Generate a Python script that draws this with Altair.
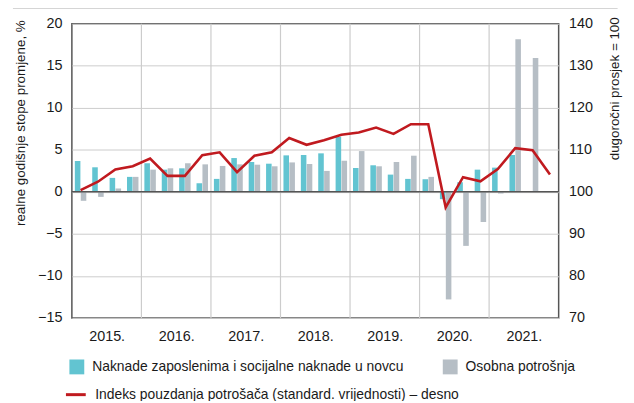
import altair as alt
import pandas as pd

years = ["2015.", "2016.", "2017.", "2018.", "2019.", "2020.", "2021."]

# quarterly values, 2015 Q1 ...
naknade = [3.67, 2.92, 1.66, 1.78, 3.40, 2.64, 2.80, 1.03, 1.54, 4.02, 3.55, 3.35,
           4.34, 4.38, 4.58, 6.55, 2.84, 3.16, 2.05, 1.54, 1.50, -0.87, 1.14, 2.64,
           2.88, 4.38, None]
osobna = [-1.07, -0.60, 0.40, 1.78, 2.64, 2.80, 3.40, 3.27, 3.08, 3.27, 3.23, 3.04,
          3.50, 3.31, 2.49, 3.70, 4.85, 3.04, 3.55, 4.30, 1.78, -12.80, -6.43, -3.59,
          -0.20, 18.15, 15.94]
indeks = [100.4, 102.4, 105.3, 106.1, 107.9, 103.8, 103.8, 108.7, 109.4, 104.7, 108.6, 109.4,
          112.8, 111.2, 112.3, 113.6, 114.1, 115.3, 113.8, 116.1, 116.1, 96.3, 103.5, 102.5,
          105.4, 110.4, 109.9, 104.1]

s1 = "Naknade zaposlenima i socijalne naknade u novcu"
s2 = "Osobna potrošnja"
s3 = "Indeks pouzdanja potrošača (standard. vrijednosti) – desno"

FONT = "Liberation Sans"
FS = 14.5
TEAL = "#62c4d1"
GREY = "#b6bec5"
RED = "#c01a1f"
GRID = "#cccccc"
DARK = "#555555"
TXT = "#1a1a1a"

n_q = len(indeks)
bars_df = pd.DataFrame({
    "q": list(range(len(naknade))) + list(range(len(osobna))),
    "serija": [s1] * len(naknade) + [s2] * len(osobna),
    "v": naknade + osobna,
}).dropna()
line_df = pd.DataFrame({"q": list(range(n_q)), "v": indeks, "serija": [s3] * n_q})
bound_df = pd.DataFrame({"b": [4 * i for i in range(1, len(years))]})

xscale = alt.Scale(domain=[0, 4 * len(years)], nice=False, zero=False)
label_arr = "[" + ",".join("'" + y + "'" for y in years) + "]"

vgrid = alt.Chart(bound_df).mark_rule(color=GRID, strokeWidth=1.2).encode(
    x=alt.X("b:Q", scale=xscale,
            axis=alt.Axis(values=[4 * i + 2 for i in range(len(years))],
                          labelExpr=label_arr + "[floor(datum.value/4)]",
                          title=None, domain=False, ticks=False, grid=False,
                          labelFontSize=FS, labelColor=TXT, labelPadding=12))
)

bars = alt.Chart(bars_df).transform_calculate(
    x1="datum.q + (datum.serija == '" + s1 + "' ? 0.17 : 0.51)",
    x2="datum.q + (datum.serija == '" + s1 + "' ? 0.49 : 0.83)",
).mark_rect().encode(
    x=alt.X("x1:Q", scale=xscale),
    x2="x2:Q",
    y=alt.Y("v:Q", scale=alt.Scale(domain=[-15, 20], nice=False, zero=False),
            axis=alt.Axis(values=list(range(-15, 21, 5)),
                          labelExpr="replace(format(datum.value, 'd'), '-', '–')",
                          title="realne godišnje stope promjene, %",
                          titleFontSize=13.5, titleFontWeight="normal", titleColor=TXT,
                          titleAngle=270, titleAlign="right", titleBaseline="middle",
                          titleX=-52, titleY=-4,
                          domain=False, ticks=False, grid=True, gridColor=GRID,
                          labelFontSize=FS, labelColor=TXT, labelPadding=10)),
    y2=alt.datum(0),
    color=alt.Color("serija:N",
                    scale=alt.Scale(domain=[s1, s2], range=[TEAL, GREY]),
                    legend=alt.Legend(title=None, orient="none", legendX=-2.5, legendY=339,
                                      direction="horizontal", symbolType="square",
                                      symbolSize=225, symbolStrokeWidth=0,
                                      labelFontSize=14, labelColor=TXT,
                                      labelOffset=8, columnPadding=39, padding=0,
                                      labelLimit=0)),
)

zero = alt.Chart(pd.DataFrame({"z": [0]})).mark_rule(color=DARK, strokeWidth=1.5).encode(
    y=alt.Y("z:Q")
)

topline = alt.Chart(pd.DataFrame({"z": [0]})).mark_rule(color="#999999", strokeWidth=1).encode(
    x=alt.value(-59.5), x2=alt.value(551), y=alt.value(-16)
)

left = alt.layer(vgrid, bars, zero, topline)

line = alt.Chart(line_df).transform_calculate(xc="datum.q + 0.5").mark_line(
    strokeWidth=2.6, strokeJoin="miter"
).encode(
    x=alt.X("xc:Q", scale=xscale),
    y=alt.Y("v:Q", scale=alt.Scale(domain=[70, 140], nice=False, zero=False),
            axis=alt.Axis(orient="right", values=list(range(70, 141, 10)),
                          title="dugoročni prosjek = 100",
                          titleFontSize=13.5, titleFontWeight="normal", titleColor=TXT,
                          titleAngle=270, titleAlign="right", titleBaseline="middle",
                          titleX=56, titleY=-7,
                          domain=False, ticks=False, grid=False,
                          labelFontSize=FS, labelColor=TXT, labelPadding=10)),
    stroke=alt.Stroke("serija:N", scale=alt.Scale(domain=[s3], range=[RED]),
                      legend=alt.Legend(title=None, orient="none", legendX=-7.5, legendY=363,
                                        symbolType="stroke", symbolSize=400,
                                        symbolStrokeWidth=3, labelFontSize=14,
                                        labelColor=TXT, labelOffset=8, padding=0,
                                        labelLimit=0)),
)

chart = alt.layer(left, line).resolve_scale(y="independent", color="independent").properties(
    width=491.5, height=297,
    padding={"left": 64.5, "top": 14, "right": 68, "bottom": 82},
    autosize=alt.AutoSizeParams(type="none"),
).configure(font=FONT).configure_view(stroke=DARK, strokeWidth=1.5)

chart.save("out.html", embed_options={"renderer": "svg", "actions": False})
